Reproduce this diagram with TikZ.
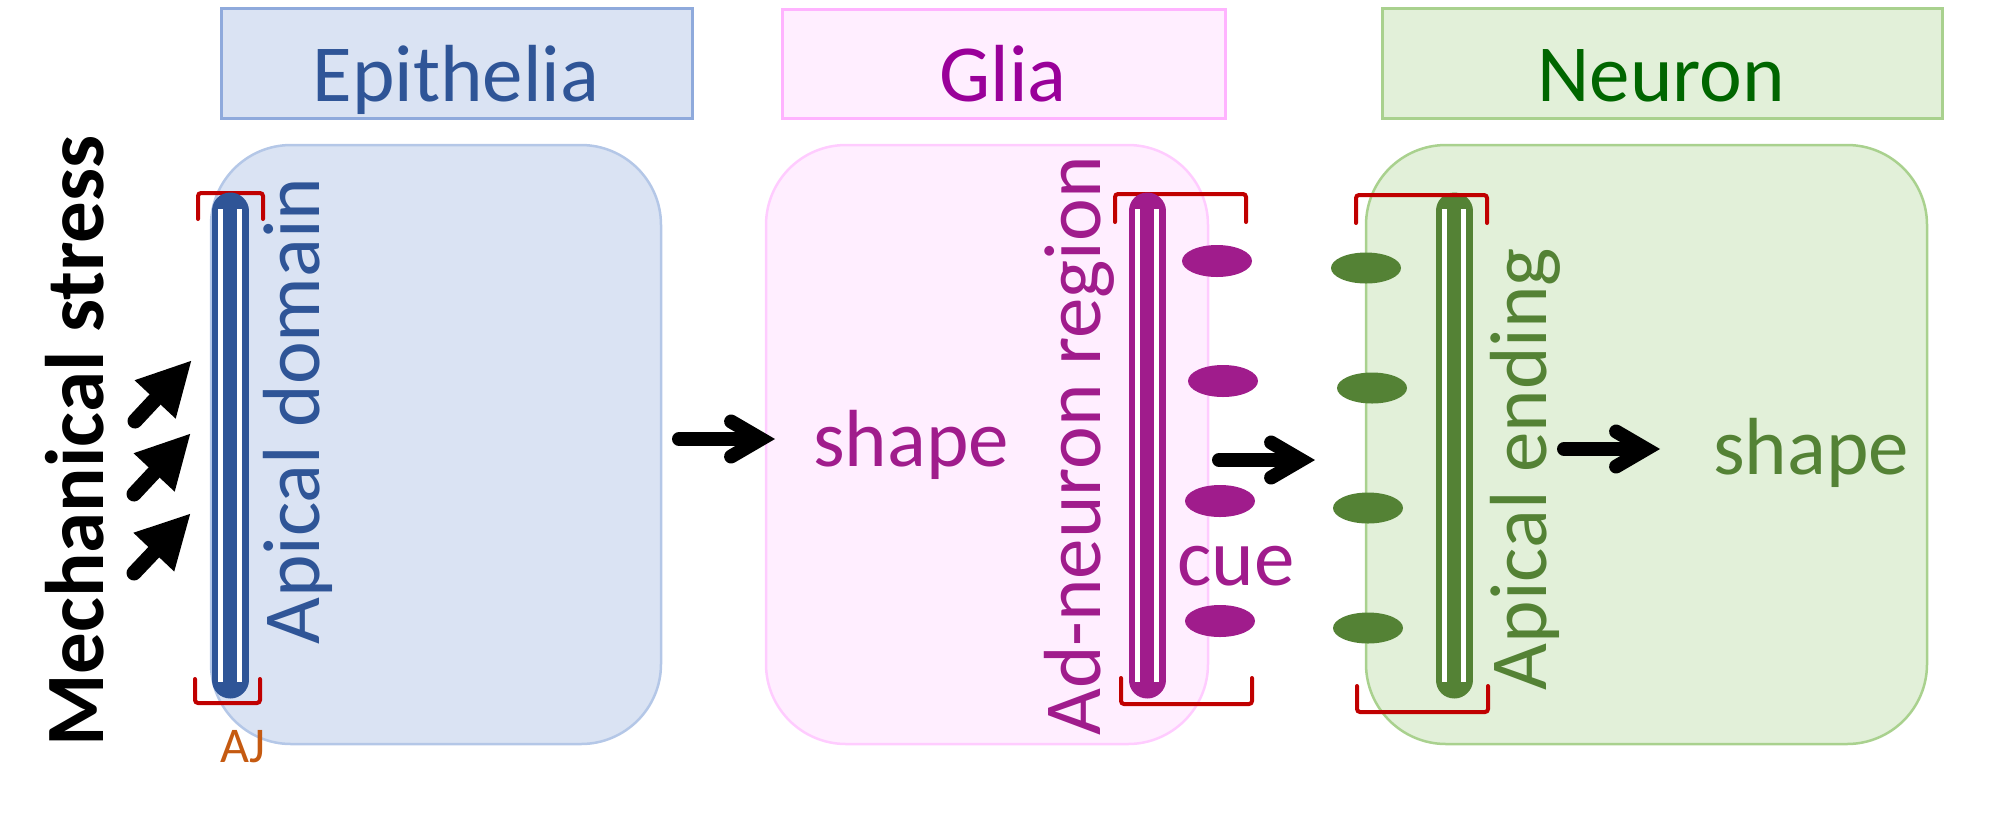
\documentclass[tikz,border=0pt]{standalone}
\usepackage{fontspec}
\setmainfont{Carlito}
\usetikzlibrary{arrows.meta}

\definecolor{epiBlue}{HTML}{2F5597}
\definecolor{epiFill}{HTML}{DAE3F3}
\definecolor{epiLine}{HTML}{8FAADC}
\definecolor{epiEdge}{HTML}{B4C7E7}
\definecolor{gliaText}{HTML}{990099}
\definecolor{gliaPurple}{HTML}{A01C8C}
\definecolor{gliaFill}{HTML}{FFEEFF}
\definecolor{gliaLine}{HTML}{FFB3FF}
\definecolor{gliaEdge}{HTML}{FFCCFF}
\definecolor{neuText}{HTML}{006600}
\definecolor{neuGreen}{HTML}{548235}
\definecolor{neuFill}{HTML}{E2F0D9}
\definecolor{neuLine}{HTML}{A9D18E}
\definecolor{ajRed}{HTML}{C00000}
\definecolor{ajOrange}{HTML}{C55A11}

\newcommand{\panelfont}{\fontsize{81}{97}\selectfont}
\newcommand{\stressfont}{\fontsize{83}{100}\selectfont\bfseries}
\newcommand{\ajfont}{\fontsize{50}{60}\selectfont}

\tikzset{
  titlebox/.style={line width=3pt},
  cellbox/.style={line width=2.5pt, rounded corners=80pt},
  capsule/.style={line width=37pt, line cap=round},
  stripe/.style={draw=white, line width=4.5pt},
  bracket/.style={draw=ajRed, line width=4pt, rounded corners=3pt, line cap=round},
  stressarrow/.style={line width=15pt, line cap=round, -{Triangle[length=54pt,width=52pt]}},
  flowarrow/.style={line width=14pt, line cap=round, -{Straight Barb[length=30pt,width=35pt,line cap=round,line join=miter]}},
  paneltext/.style={font=\panelfont, anchor=base, inner sep=0pt},
  sidetext/.style={paneltext, rotate=90},
}

\begin{document}
\begin{tikzpicture}[x=1pt,y=1pt,yscale=-1,xscale=1]
    \useasboundingbox (0,0) rectangle (1993,815);

    %Shape: Rectangle [Epithelia title]
    \draw [titlebox, draw=epiLine, fill=epiFill] (221,8) rectangle (692,118);
    %Shape: Rectangle [Glia title]
    \draw [titlebox, draw=gliaLine, fill=gliaFill] (782,9) rectangle (1225,118);
    %Shape: Rectangle [Neuron title]
    \draw [titlebox, draw=neuLine, fill=neuFill] (1382,8) rectangle (1942,118);

    %Shape: Rounded Rect [Epithelia cell]
    \draw [cellbox, draw=epiEdge, fill=epiFill] (211,145) rectangle (661,744);
    %Shape: Rounded Rect [Glia cell]
    \draw [cellbox, draw=gliaEdge, fill=gliaFill] (766,145) rectangle (1208,744);
    %Shape: Rounded Rect [Neuron cell]
    \draw [cellbox, draw=neuLine, fill=neuFill] (1366,145) rectangle (1927,744);

    % Title Nodes
    \draw (456,101) node (epiTitle) [paneltext, text=epiBlue] {Epithelia};
    \draw (1003,101) node (gliaTitle) [paneltext, text=gliaText] {Glia};
    \draw (1661,101) node (neuTitle) [paneltext, text=neuText] {Neuron};

    %Shape: Brackets [AJ]
    \draw [bracket] (198,219) -- (198,193) -- (263,193) -- (263,219);
    \draw [bracket] (195,679) -- (195,703) -- (260,703) -- (260,679);
    %Shape: Bar [apical domain]
    \draw [capsule, epiBlue] (230,211) -- (230,680);
    \draw [stripe] (220.5,209) -- (220.5,682);
    \draw [stripe] (239.5,209) -- (239.5,682);

    %Shape: Brackets [glia]
    \draw [bracket] (1115,222) -- (1115,194) -- (1246,194) -- (1246,222);
    \draw [bracket] (1121,678) -- (1121,704) -- (1252,704) -- (1252,678);
    %Shape: Bar [ad-neuron region]
    \draw [capsule, gliaPurple] (1147,211) -- (1147,680);
    \draw [stripe] (1137.5,209) -- (1137.5,682);
    \draw [stripe] (1156.5,209) -- (1156.5,682);

    %Shape: Bar [apical ending]
    \draw [capsule, neuGreen] (1454,211) -- (1454,680);
    \draw [stripe] (1444.5,209) -- (1444.5,682);
    \draw [stripe] (1463.5,209) -- (1463.5,682);
    %Shape: Brackets [neuron]
    \draw [bracket] (1356,223) -- (1356,195) -- (1487,195) -- (1487,223);
    \draw [bracket] (1357,686) -- (1357,712) -- (1488,712) -- (1488,686);

    %Shape: Ellipses [cue]
    \fill [gliaPurple] (1217,261) ellipse [x radius=35, y radius=16];
    \fill [gliaPurple] (1223,381) ellipse [x radius=35, y radius=16];
    \fill [gliaPurple] (1220,501) ellipse [x radius=35, y radius=16];
    \fill [gliaPurple] (1220,621) ellipse [x radius=35, y radius=16];
    %Shape: Ellipses [receptors]
    \fill [neuGreen] (1366,268) ellipse [x radius=35, y radius=15.5];
    \fill [neuGreen] (1372,388) ellipse [x radius=35, y radius=15.5];
    \fill [neuGreen] (1368,508) ellipse [x radius=35, y radius=15.5];
    \fill [neuGreen] (1368,628) ellipse [x radius=35, y radius=15.5];

    % Stress arrows
    \coordinate (stressTail1) at (135,421);
    \coordinate (stressTip1) at (192,360);
    \coordinate (stressTail2) at (134,494);
    \coordinate (stressTip2) at (191,433);
    \coordinate (stressTail3) at (134,573);
    \coordinate (stressTip3) at (191,513);
    \draw [stressarrow] (stressTail1) -- (stressTip1);
    \draw [stressarrow] (stressTail2) -- (stressTip2);
    \draw [stressarrow] (stressTail3) -- (stressTip3);

    % Flow arrows
    \coordinate (epiOut) at (679,439);
    \coordinate (gliaIn) at (775,439);
    \coordinate (gliaOut) at (1219,460);
    \coordinate (neuIn) at (1315,460);
    \coordinate (endOut) at (1564,449);
    \coordinate (shapeIn) at (1660,449);
    \draw [flowarrow] (epiOut) -- (gliaIn);
    \draw [flowarrow] (gliaOut) -- (neuIn);
    \draw [flowarrow] (endOut) -- (shapeIn);

    % Text Node
    \draw (103,441) node (stressLabel) [sidetext, font=\stressfont] {Mechanical stress};
    % Text Node
    \draw (319,411) node (apicalDomain) [sidetext, text=epiBlue] {Apical domain};
    % Text Node
    \draw (243,762) node (ajLabel) [paneltext, font=\ajfont, text=ajOrange] {AJ};
    % Text Node
    \draw (911,466) node (gliaShape) [paneltext, text=gliaPurple] {shape};
    % Text Node
    \draw (1100,446) node (adNeuron) [sidetext, text=gliaPurple] {Ad-neuron region};
    % Text Node
    \draw (1236,585) node (gliaCue) [paneltext, text=gliaPurple] {cue};
    % Text Node
    \draw (1546,469) node (apicalEnding) [sidetext, text=neuGreen] {Apical ending};
    % Text Node
    \draw (1811,474) node (neuShape) [paneltext, text=neuGreen] {shape};
\end{tikzpicture}
\end{document}
